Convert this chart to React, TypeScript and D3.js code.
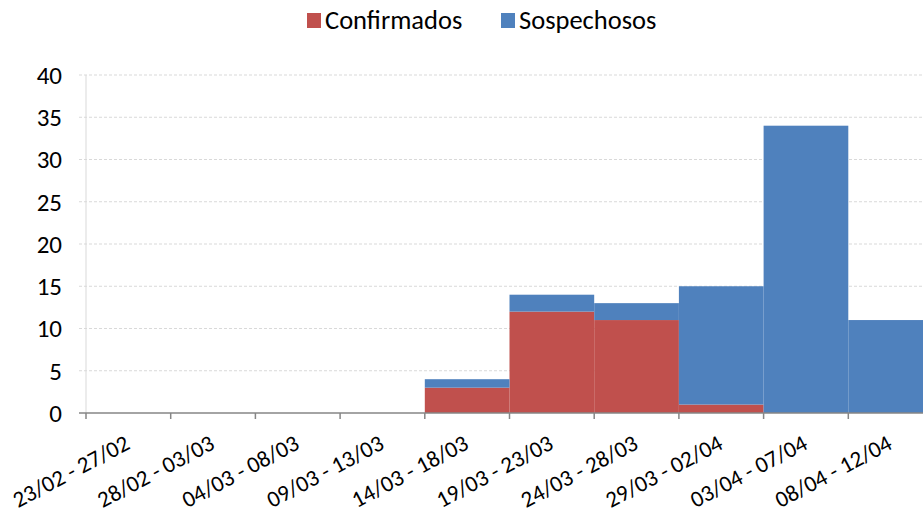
import React from "react";
import * as d3 from "d3";

const categories = [
  "23/02 - 27/02", "28/02 - 03/03", "04/03 - 08/03", "09/03 - 13/03", "14/03 - 18/03",
  "19/03 - 23/03", "24/03 - 28/03", "29/03 - 02/04", "03/04 - 07/04", "08/04 - 12/04",
];
const confirmados = [0, 0, 0, 0, 3, 12, 11, 1, 0, 0];
const sospechosos = [0, 0, 0, 0, 1, 2, 2, 14, 34, 11];
const yTicks = [0, 5, 10, 15, 20, 25, 30, 35, 40];
const seriesNames = ["Confirmados", "Sospechosos"];
const colors = ["#C0504D", "#4F81BD"];

export default function App() {
  const W = 923, H = 515;
  const left = 86, right = 933, top = 75, bottom = 413;
  const x = d3.scaleBand<string>().domain(categories).range([left, right]).padding(0);
  const y = d3.scaleLinear().domain([0, 40]).range([bottom, top]);
  const rows = categories.map((c, i) => ({ cat: c, Confirmados: confirmados[i], Sospechosos: sospechosos[i] }));
  const stack = d3.stack<any>().keys(seriesNames)(rows);
  const font = "Carlito, Lato, 'Open Sans', sans-serif";
  const bw = x.bandwidth();
  const boundaries = categories.map((c) => x(c)!).concat([right]);

  return (
    <svg width={W} height={H} style={{ position: "absolute", left: 0, top: 0, background: "#fff" }}>
      {yTicks.slice(1).map((t) => (
        <line key={t} x1={79} x2={right} y1={y(t)} y2={y(t)} stroke="#d9d9d9" strokeDasharray="3,2" strokeWidth={1} />
      ))}
      <line x1={left} x2={left} y1={top} y2={bottom} stroke="#d9d9d9" strokeWidth={1} />
      {stack.map((s, si) =>
        s.map((d, i) =>
          d[1] > d[0] ? (
            <rect key={si + "-" + i} x={x(categories[i])!} width={bw} y={y(d[1])} height={y(d[0]) - y(d[1])} fill={colors[si]} />
          ) : null
        )
      )}
      <line x1={79} x2={right} y1={bottom} y2={bottom} stroke="#868686" strokeWidth={1.5} />
      {boundaries.map((b, i) => (
        <line key={i} x1={b} x2={b} y1={bottom} y2={bottom + 6} stroke="#868686" strokeWidth={1.5} />
      ))}
      {yTicks.map((t) => (
        <text key={t} x={62} y={y(t)} dy="0.35em" textAnchor="end" fontFamily={font} fontSize={25} fill="#000">{t}</text>
      ))}
      {categories.map((c) => (
        <text key={c} transform={`translate(${x(c)! + bw / 2 + 3},${bottom + 35}) rotate(-28)`} textAnchor="end"
          fontFamily={font} fontSize={23} fill="#000">{c}</text>
      ))}
      <g>
        <rect x={307} y={13} width={14} height={15} fill={colors[0]} />
        <text x={325} y={29} fontFamily={font} fontSize={26.5} fill="#000">{seriesNames[0]}</text>
        <rect x={501} y={13} width={14} height={15} fill={colors[1]} />
        <text x={519} y={29} fontFamily={font} fontSize={26.5} fill="#000">{seriesNames[1]}</text>
      </g>
    </svg>
  );
}
